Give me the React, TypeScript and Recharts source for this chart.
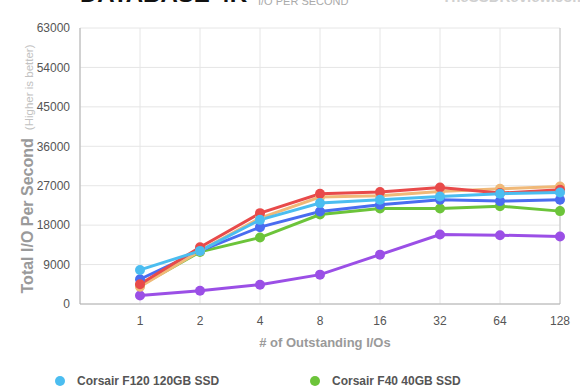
import React from 'react';
import { LineChart, Line, XAxis, YAxis, CartesianGrid, ReferenceLine } from 'recharts';

const categories = ['1', '2', '4', '8', '16', '32', '64', '128'];
const yTicks = [0, 9000, 18000, 27000, 36000, 45000, 54000, 63000];

const purpleSeries = [1950, 3040, 4410, 6700, 11270, 15850, 15710, 15390];
const greenSeries = [4200, 11890, 15160, 20420, 21790, 21790, 22340, 21200];
const blueSeries = [5650, 12120, 17540, 21110, 22640, 23780, 23490, 23780];
const orangeSeries = [3960, 12120, 19600, 24400, 24700, 25680, 26300, 26830];
const redSeries = [4505, 12970, 20740, 25160, 25550, 26600, 25320, 26070];
const lightBlueSeries = [7780, 12120, 19210, 23030, 23780, 24540, 25160, 25450];

const seriesList = [
  { key: 'purple', name: 'Drive 6', color: '#9b4fe6', values: purpleSeries },
  { key: 'green', name: 'Corsair F40 40GB SSD', color: '#6cc43a', values: greenSeries },
  { key: 'blue', name: 'Drive 3', color: '#4a6cf0', values: blueSeries },
  { key: 'orange', name: 'Drive 4', color: '#f0b978', values: orangeSeries },
  { key: 'red', name: 'Drive 5', color: '#e84a4a', values: redSeries },
  { key: 'lightBlue', name: 'Corsair F120 120GB SSD', color: '#4bbdf0', values: lightBlueSeries },
];

const legendOrder = ['lightBlue', 'green'];

const data = categories.map((c, i) => {
  const row: any = { idx: i + 1, label: c };
  seriesList.forEach((s) => {
    row[s.key] = s.values[i];
  });
  return row;
});

const FONT = '"Liberation Sans", Arial, Helvetica, sans-serif';

const YLabel = (props: any) => {
  const vb = props.viewBox || { x: 0, y: 28, width: 80, height: 276 };
  const cx = vb.x + 33;
  const cy = vb.y + vb.height / 2 + 3;
  return (
    <text
      x={cx}
      y={cy}
      transform={`rotate(-90, ${cx}, ${cy})`}
      textAnchor="middle"
      fontFamily={FONT}
    >
      <tspan fontSize={16} fontWeight="bold" fill="#9a9a9a">Total I/O Per Second</tspan>
      <tspan fontSize={11.5} fill="#c2c2c2" dx={8}>(Higher is better)</tspan>
    </text>
  );
};

const XLabel = (props: any) => {
  const vb = props.viewBox || { x: 80, y: 304, width: 480, height: 86 };
  return (
    <text
      x={vb.x + vb.width / 2 + 5}
      y={vb.y + 43}
      textAnchor="middle"
      fontFamily={FONT}
      fontSize={13}
      fontWeight="bold"
      fill="#9a9a9a"
    >
      # of Outstanding I/Os
    </text>
  );
};

export default function App() {
  const legendItems = legendOrder.map((k) => seriesList.find((s) => s.key === k)!);
  return (
    <div
      style={{
        position: 'fixed',
        left: 0,
        top: 0,
        width: 580,
        height: 390,
        overflow: 'hidden',
        background: '#fff',
        fontFamily: FONT,
      }}
    >
      <div
        style={{
          position: 'absolute',
          left: 80,
          top: -19,
          fontSize: 24,
          fontWeight: 900,
          color: '#111',
          lineHeight: '25px',
          whiteSpace: 'nowrap',
        }}
      >
        DATABASE 4K
      </div>
      <div
        style={{
          position: 'absolute',
          left: 258,
          top: -4,
          fontSize: 11,
          color: '#aaa',
          lineHeight: '11px',
          whiteSpace: 'nowrap',
        }}
      >
        I/O PER SECOND
      </div>
      <div
        style={{
          position: 'absolute',
          left: 442,
          top: -11,
          fontSize: 15,
          fontWeight: 'bold',
          color: '#d0d0d0',
          lineHeight: '16px',
          whiteSpace: 'nowrap',
        }}
      >
        TheSSDReview.com
      </div>
      <div style={{ position: 'absolute', left: 0, top: 0 }}>
        <LineChart
          width={580}
          height={390}
          data={data}
          margin={{ top: 28, right: 20, left: 0, bottom: 0 }}
        >
          <CartesianGrid stroke="#e6e6e6" strokeWidth={1} />
          <XAxis
            dataKey="idx"
            type="number"
            domain={[0, 8]}
            ticks={[1, 2, 3, 4, 5, 6, 7, 8]}
            tickFormatter={(v: number) => categories[v - 1] ?? ''}
            height={86}
            axisLine={{ stroke: '#b0b0b0' }}
            tickLine={false}
            tickSize={0}
            tickMargin={12}
            tick={{ fill: '#555', fontSize: 12, fontFamily: FONT }}
            label={<XLabel />}
            interval={0}
          />
          <YAxis
            type="number"
            domain={[0, 63000]}
            ticks={yTicks}
            width={80}
            axisLine={{ stroke: '#b0b0b0' }}
            tickLine={false}
            tickSize={0}
            tickMargin={10}
            tick={{ fill: '#555', fontSize: 12, fontFamily: FONT }}
            label={<YLabel />}
            interval={0}
          />
          <ReferenceLine x={8} stroke="#c4c4c4" />
          {seriesList.map((s) => (
            <Line
              key={s.key}
              dataKey={s.key}
              name={s.name}
              stroke={s.color}
              strokeWidth={3}
              dot={{ r: 5, fill: s.color, stroke: s.color, strokeWidth: 0 }}
              activeDot={false}
              isAnimationActive={false}
            />
          ))}
        </LineChart>
      </div>
      {legendItems.map((s, i) => (
        <div
          key={s.key}
          style={{
            position: 'absolute',
            left: i === 0 ? 55 : 310,
            top: 373,
            display: 'flex',
            alignItems: 'center',
            whiteSpace: 'nowrap',
          }}
        >
          <span
            style={{
              display: 'inline-block',
              width: 10,
              height: 10,
              borderRadius: 5,
              background: s.color,
              marginRight: 12,
            }}
          />
          <span style={{ fontSize: 12, fontWeight: 'bold', color: '#555', lineHeight: '16px' }}>
            {s.name}
          </span>
        </div>
      ))}
    </div>
  );
}
